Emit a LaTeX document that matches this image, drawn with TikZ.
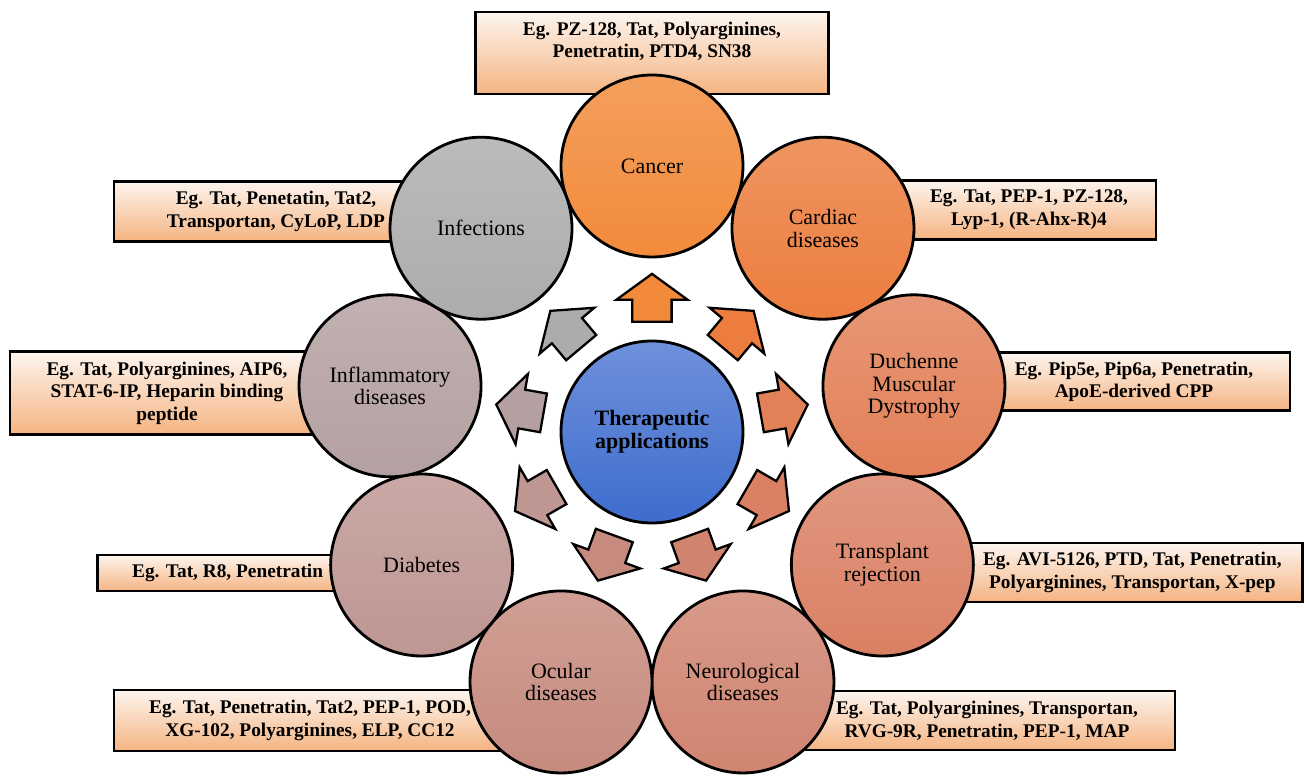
\documentclass[tikz,border=0pt]{standalone}
\usepackage{fontspec}
\setmainfont{Liberation Serif}
\usetikzlibrary{shapes.arrows,backgrounds}

\definecolor{CancerColor}{RGB}{242,138,58}
\definecolor{CardiacColor}{RGB}{236,125,62}
\definecolor{DuchenneColor}{RGB}{226,128,88}
\definecolor{TransplantColor}{RGB}{218,128,100}
\definecolor{NeuroColor}{RGB}{208,132,112}
\definecolor{OcularColor}{RGB}{198,138,126}
\definecolor{DiabetesColor}{RGB}{190,150,146}
\definecolor{InflammatoryColor}{RGB}{180,160,160}
\definecolor{InfectionsColor}{RGB}{172,172,172}
\definecolor{HubColor}{RGB}{62,108,206}
\definecolor{BoxTop}{RGB}{253,245,238}
\definecolor{BoxBottom}{RGB}{245,180,130}

\tikzstyle{disease} = [circle, minimum size=3.64cm, inner sep=0pt, align=center, draw=black, line width=1.6pt, font=\fontsize{12.5}{13}\selectfont]
\tikzstyle{hub} = [disease, top color=HubColor!75!white, bottom color=HubColor, font=\bfseries\fontsize{12.5}{13}\selectfont]
\tikzstyle{examples} = [rectangle, align=center, draw=black, line width=1.6pt, top color=BoxTop, bottom color=BoxBottom, font=\bfseries\fontsize{11}{13}\selectfont]
\tikzstyle{spoke} = [single arrow, draw=black, line width=1.3pt, inner xsep=0pt, inner ysep=0.37cm, minimum height=0.96cm, minimum width=1.38cm, single arrow head extend=0.32cm, single arrow tip angle=108, anchor=tail]
\tikzset{tone/.style={top color=#1!82!white, bottom color=#1}}

\begin{document}
\begin{tikzpicture}[node distance = 4cm, auto]
	\useasboundingbox (-13.04,-6.86) rectangle (13.14,8.64);
	% Place nodes
	\node [hub] (Therapeutic) at (0,0) {Therapeutic\\applications};
	\node [disease, tone=CancerColor] (Cancer) at (90:5.32) {Cancer};
	\node [disease, tone=CardiacColor] (Cardiac) at (50:5.32) {Cardiac\\diseases};
	\node [disease, tone=DuchenneColor] (Duchenne) at (10:5.32) {Duchenne\\Muscular\\Dystrophy};
	\node [disease, tone=TransplantColor] (Transplant) at (-30:5.32) {Transplant\\rejection};
	\node [disease, tone=NeuroColor] (Neurological) at (-70:5.32) {Neurological\\diseases};
	\node [disease, tone=OcularColor] (Ocular) at (-110:5.32) {Ocular\\diseases};
	\node [disease, tone=DiabetesColor] (Diabetes) at (-150:5.32) {Diabetes};
	\node [disease, tone=InflammatoryColor] (Inflammatory) at (170:5.32) {Inflammatory\\diseases};
	\node [disease, tone=InfectionsColor] (Infections) at (130:5.32) {Infections};
	% Place examples
	\begin{scope}[on background layer]
	\node [examples, above of=Cancer, yshift=-1.74cm, minimum width=7.06cm, minimum height=1.64cm] (CancerEx) {Eg. PZ-128, Tat, Polyarginines,\\Penetratin, PTD4, SN38\rule[-15pt]{0pt}{15pt}};
	\node [examples, right of=Cardiac, xshift=0.12cm, yshift=0.37cm, minimum width=5.08cm, minimum height=1.18cm] (CardiacEx) {Eg. Tat, PEP-1, PZ-128,\\Lyp-1, (R-Ahx-R)4};
	\node [examples, right of=Duchenne, xshift=0.4cm, yshift=0.08cm, minimum width=6.24cm, minimum height=1.16cm] (DuchenneEx) {Eg. Pip5e, Pip6a, Penetratin,\\ApoE-derived CPP};
	\node [examples, right of=Transplant, xshift=1cm, yshift=-0.15cm, minimum width=6.8cm, minimum height=1.18cm] (TransplantEx) {Eg. AVI-5126, PTD, Tat, Penetratin,\\Polyarginines, Transportan, X-pep};
	\node [examples, right of=Neurological, xshift=0.88cm, yshift=-0.77cm, minimum width=7.52cm, minimum height=1.18cm] (NeurologicalEx) {Eg. Tat, Polyarginines, Transportan,\\RVG-9R, Penetratin, PEP-1, MAP};
	\node [examples, left of=Ocular, xshift=-1.02cm, yshift=-0.77cm, minimum width=7.84cm, minimum height=1.22cm] (OcularEx) {Eg. Tat, Penetratin, Tat2, PEP-1, POD,\\XG-102, Polyarginines, ELP, CC12};
	\node [examples, left of=Diabetes, xshift=0.12cm, yshift=-0.16cm, minimum width=5.2cm, minimum height=0.72cm] (DiabetesEx) {Eg. Tat, R8, Penetratin};
	\node [examples, left of=Inflammatory, xshift=-0.46cm, yshift=-0.15cm, minimum width=6.28cm, minimum height=1.66cm] (InflammatoryEx) {Eg. Tat, Polyarginines, AIP6,\\STAT-6-IP, Heparin binding\\peptide};
	\node [examples, left of=Infections, xshift=-0.1cm, yshift=0.34cm, minimum width=6.48cm, minimum height=1.2cm] (InfectionsEx) {Eg. Tat, Penetatin, Tat2,\\Transportan, CyLoP, LDP};
	\end{scope}
	% Draw arrows
	\node [spoke, fill=CancerColor, rotate=90] (ToCancer) at (90:2.18) {};
	\node [spoke, fill=CardiacColor, rotate=50] (ToCardiac) at (50:2.18) {};
	\node [spoke, fill=DuchenneColor, rotate=10] (ToDuchenne) at (10:2.18) {};
	\node [spoke, fill=TransplantColor, rotate=-30] (ToTransplant) at (-30:2.18) {};
	\node [spoke, fill=NeuroColor, rotate=-70] (ToNeurological) at (-70:2.18) {};
	\node [spoke, fill=OcularColor, rotate=-110] (ToOcular) at (-110:2.18) {};
	\node [spoke, fill=DiabetesColor, rotate=-150] (ToDiabetes) at (-150:2.18) {};
	\node [spoke, fill=InflammatoryColor, rotate=170] (ToInflammatory) at (170:2.18) {};
	\node [spoke, fill=InfectionsColor, rotate=130] (ToInfections) at (130:2.18) {};
\end{tikzpicture}
\end{document}
